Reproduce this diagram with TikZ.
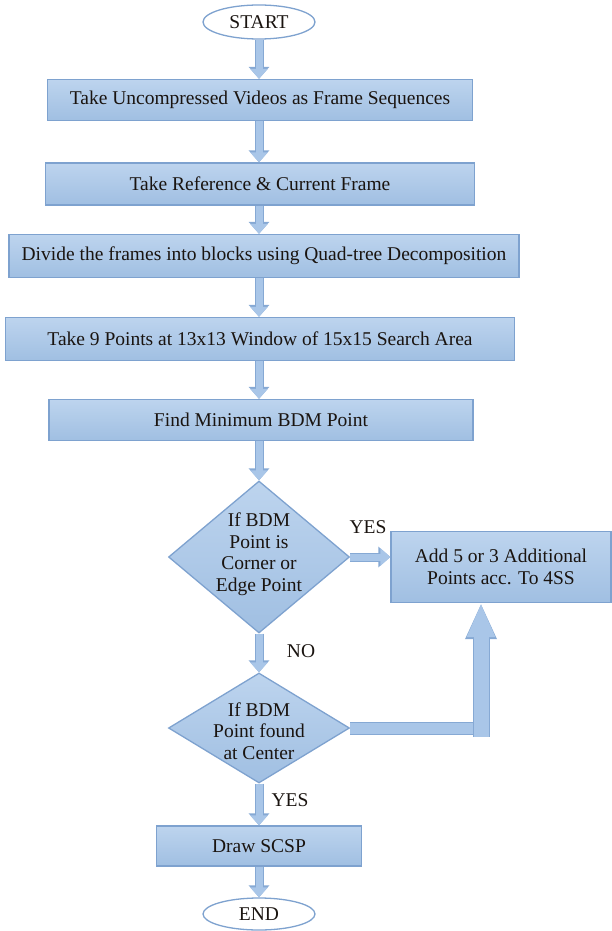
\documentclass[tikz,border=0pt]{standalone}
\usepackage{fontspec}
\setmainfont{Liberation Serif}
\usetikzlibrary{shapes.geometric,arrows.meta}

\definecolor{boxtop}{HTML}{BDD4EE}
\definecolor{boxbot}{HTML}{A0BFE2}
\definecolor{boxedge}{HTML}{7EA2CF}
\definecolor{flowfill}{HTML}{A9C6E8}
\definecolor{flowedge}{HTML}{86A9D4}
\definecolor{inktext}{HTML}{1A1410}

\begin{document}
\begin{tikzpicture}[x=1pt, y=-1pt,
    every node/.style={text=inktext, font=\fontsize{19.5}{21.5}\selectfont},
    stepbox/.style={rectangle, draw=boxedge, line width=1.3pt, top color=boxtop, bottom color=boxbot, inner sep=0pt},
    terminal/.style={ellipse, draw=boxedge, line width=1.3pt, fill=white, minimum width=112pt, minimum height=34pt, inner sep=0pt},
    decision/.style={diamond, draw=boxedge, line width=1.3pt, top color=boxtop, bottom color=boxbot, minimum width=181pt, minimum height=152pt, inner sep=0pt},
    flow/.style={line width=7pt, draw=flowfill, -{Triangle[width=17pt,length=10pt]},
        preaction={draw=flowedge, line width=9pt, -{Triangle[width=20pt,length=12pt]}}},
    bigflow/.style={line width=15pt, draw=flowfill, -{Triangle[width=26pt,length=34pt]},
        preaction={draw=flowedge, line width=17pt, -{Triangle[width=29pt,length=36pt]}}},
    barflow/.style={line width=11pt, draw=flowfill,
        preaction={draw=flowedge, line width=13pt}}]
    \useasboundingbox (0,0) rectangle (612,931);

    % main column
    \node[terminal] (start) at (259,22) {START};
    \node[stepbox, minimum width=425pt, minimum height=41pt] (frames) at (260,100) {Take Uncompressed Videos as Frame Sequences};
    \node[stepbox, minimum width=429pt, minimum height=42pt] (refcur) at (260,184) {Take Reference \& Current Frame};
    \node[stepbox, minimum width=510pt, minimum height=43pt] (quad) at (264,256) {Divide the frames into blocks using Quad-tree Decomposition};
    \node[stepbox, minimum width=509pt, minimum height=43pt] (nine) at (260,339) {Take 9 Points at 13x13 Window of 15x15 Search Area};
    \node[stepbox, minimum width=424pt, minimum height=41pt] (minbdm) at (261,420) {Find Minimum BDM Point};
    \node[decision, label={[align=center, yshift=3pt]center:If BDM\\Point is\\Corner or\\Edge Point}] (corner) at (259,557) {};
    \node[decision, minimum height=110pt, label={[align=center, yshift=-3pt]center:If BDM\\Point found\\at Center}] (center) at (259,728) {};
    \node[stepbox, minimum width=205pt, minimum height=40pt] (scsp) at (259,846) {Draw SCSP};
    \node[terminal, minimum height=32pt] (finish) at (259,914) {END};

    % side branch
    \node[stepbox, minimum width=220pt, minimum height=71pt, align=center] (extra) at (501,567) {Add 5 or 3 Additional\\Points acc. To 4SS};
    \coordinate (bend) at (481,728);

    \draw[flow] (start) -- (start |- frames.north);
    \draw[flow] (frames.south -| start) -- (start |- refcur.north);
    \draw[flow] (refcur.south -| start) -- (start |- quad.north);
    \draw[flow] (quad.south -| start) -- (start |- nine.north);
    \draw[flow] (nine.south -| start) -- (start |- minbdm.north);
    \draw[flow] (minbdm.south -| start) -- (corner);
    \draw[flow] (corner) -- (extra.west |- corner);
    \draw[flow] (corner) -- (center);
    \draw[flow] (center) -- (scsp);
    \draw[flow] (scsp) -- (finish);
    \draw[barflow] (center.east) -- ([xshift=9pt]bend);
    \draw[bigflow] ([yshift=-9pt]bend) -- (bend |- extra.south);

    \node (yes1) at (368,527) {YES};
    \node (no) at (301,651) {NO};
    \node (yes2) at (290,800) {YES};
\end{tikzpicture}
\end{document}
